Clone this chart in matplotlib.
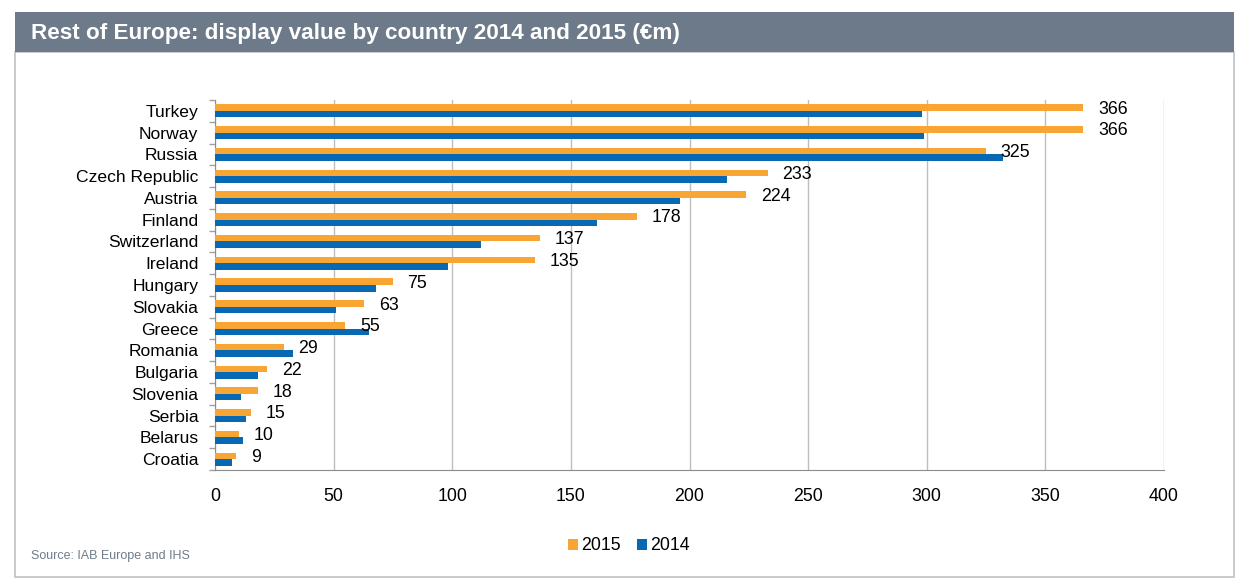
import numpy as np
import matplotlib.pyplot as plt
from matplotlib.patches import Rectangle
from matplotlib.ticker import FixedLocator

plt.rcParams['font.family'] = ['Liberation Sans', 'DejaVu Sans']

countries = ["Turkey", "Norway", "Russia", "Czech Republic", "Austria", "Finland",
             "Switzerland", "Ireland", "Hungary", "Slovakia", "Greece", "Romania",
             "Bulgaria", "Slovenia", "Serbia", "Belarus", "Croatia"]
val_2015 = [366, 366, 325, 233, 224, 178, 137, 135, 75, 63, 55, 29, 22, 18, 15, 10, 9]
val_2014 = [298, 299, 332, 216, 196, 161, 112, 98, 68, 51, 65, 33, 18, 11, 13, 12, 7]
xticks = [0, 50, 100, 150, 200, 250, 300, 350, 400]

orange = "#F9A533"
blue = "#0768B4"

fig = plt.figure(figsize=(12.55, 5.88), dpi=100)

# frame + title bar (behind the axes)
fig.add_artist(Rectangle((15/1255, 1-577/588), 1219/1255, 525/588, transform=fig.transFigure,
                         facecolor="white", edgecolor="#BFC2C6", linewidth=1.2, zorder=-2))
fig.add_artist(Rectangle((15/1255, 1-52/588), 1219/1255, 40/588, transform=fig.transFigure,
                         facecolor="#6C7A89", edgecolor="none", zorder=-1))
fig.text(31/1255, 1-33/588, "Rest of Europe: display value by country 2014 and 2015 (\u20acm)",
         color="white", fontsize=16.2, fontweight="bold", va="center", ha="left")
fig.text(31/1255, 1-556/588, "Source: IAB Europe and IHS", color="#6F7C8B",
         fontsize=9, va="center", ha="left")

ax = fig.add_axes([215/1255, 1-470/588, 949/1255, 370/588])
ax.patch.set_alpha(0)
y = np.arange(len(countries))
h = 0.3
ax.barh(y - h/2, val_2015, height=h, color=orange, label="2015", zorder=3)
ax.barh(y + h/2, val_2014, height=h, color=blue, label="2014", zorder=3)

for i, v in enumerate(val_2015):
    ax.annotate(str(v), (v, i - 0.08), xytext=(10.5, 0), textcoords="offset points",
                ha="left", va="center", fontsize=12.8, color="black", zorder=4)

ax.set_xlim(0, 400)
ax.set_ylim(len(countries) - 0.5, -0.5)
ax.set_xticks(xticks)
ax.set_yticks(y)
ax.set_yticklabels(countries)
ax.yaxis.set_minor_locator(FixedLocator(np.arange(-0.5, len(countries), 1)))
ax.tick_params(axis="y", which="major", length=0, pad=12, labelsize=12.6)
ax.tick_params(axis="y", which="minor", length=4, color="#A0A0A0", width=1)
ax.tick_params(axis="x", length=0, pad=13, labelsize=12.8)
ax.grid(axis="x", color="#BEBEBE", linewidth=1, zorder=0)
ax.spines["top"].set_visible(False)
ax.spines["right"].set_visible(False)
ax.spines["left"].set_color("#8C8C8C")
ax.spines["bottom"].set_color("#8C8C8C")

fig.legend(loc="center", bbox_to_anchor=(629/1255, 1-546/588), ncol=2, frameon=False,
           fontsize=12.8, handlelength=0.55, handleheight=0.55, handletextpad=0.2,
           columnspacing=0.9)

fig.savefig("out.png", dpi=100)
